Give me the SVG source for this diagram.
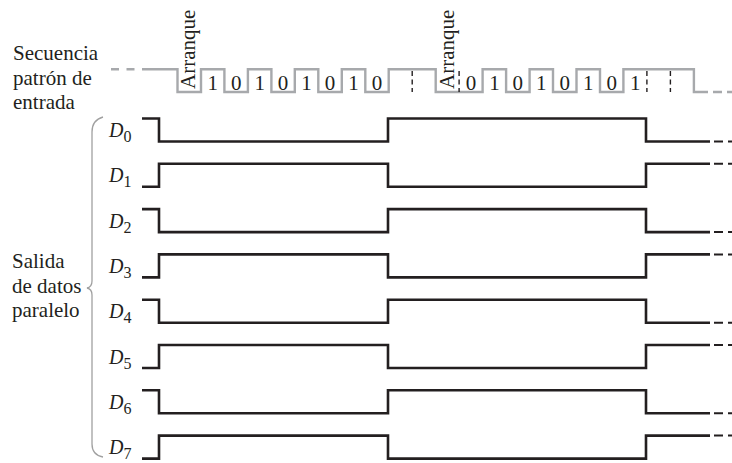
<svg xmlns="http://www.w3.org/2000/svg" width="732" height="463" viewBox="0 0 732 463">
<style>
text{font-family:"Liberation Serif","Times New Roman",serif;fill:#231f20}
.lbl{font-size:21px}
.bit{font-size:21px;text-anchor:middle}
.dl{font-size:20px;font-style:italic}
.sub{font-size:16px;font-style:normal}
.ser{fill:none;stroke:#a7a9ac;stroke-width:2.4;stroke-linejoin:miter}
.serd{fill:none;stroke:#a7a9ac;stroke-width:2.4}
.vd{stroke:#231f20;stroke-width:1.4;stroke-dasharray:5 3.5}
.wave{fill:none;stroke:#231f20;stroke-width:2.6;stroke-linejoin:miter}
.tail{stroke:#231f20;stroke-width:2;stroke-dasharray:9 5}
.brace{fill:none;stroke:#a0a0a0;stroke-width:1.3}
</style>
<rect width="732" height="463" fill="#fff"/>
<g id="labels">
<text class="lbl" x="13" y="60">Secuencia</text>
<text class="lbl" x="13" y="84.5">patrón de</text>
<text class="lbl" x="13" y="109">entrada</text>
<text class="lbl" x="12" y="268">Salida</text>
<text class="lbl" x="12" y="293">de datos</text>
<text class="lbl" x="12" y="317">paralelo</text>
</g>
<g id="brace">
<path class="brace" d="M103,117 Q92,120 92,132 V281 Q92,287 87,288 Q92,289 92,295 V444 Q92,455 103,457"/>
</g>
<g id="serial-input">
<path class="serd" d="M111,69.3 H138" stroke-dasharray="8 7.5"/>
<path class="ser" d="M142,69.3 H177.5 V92 H201 V69.3 H224.4 V92 H247.9 V69.3 H271.4 V92 H294.8 V69.3 H318.3 V92 H341.8 V69.3 H365.3 V92 H388.7 V69.3 H435.7 V92 H482.6 V69.3 H506.1 V92 H529.6 V69.3 H553 V92 H576.5 V69.3 H600 V92 H623.4 V69.3 H693.9 V92 H708"/>
<path class="serd" d="M713,92 H732" stroke-dasharray="9 5"/>
<line class="vd" x1="412.2" y1="71" x2="412.2" y2="92"/>
<line class="vd" x1="459.1" y1="71" x2="459.1" y2="92"/>
<line class="vd" x1="646.9" y1="71" x2="646.9" y2="92"/>
<line class="vd" x1="670.4" y1="71" x2="670.4" y2="92"/>
<text class="lbl" transform="translate(195,89) rotate(-90)">Arranque</text>
<text class="lbl" transform="translate(453.5,89) rotate(-90)">Arranque</text>
<text class="bit" x="212.7" y="90">1</text>
<text class="bit" x="236.2" y="90">0</text>
<text class="bit" x="259.7" y="90">1</text>
<text class="bit" x="283.1" y="90">0</text>
<text class="bit" x="306.6" y="90">1</text>
<text class="bit" x="330.1" y="90">0</text>
<text class="bit" x="353.5" y="90">1</text>
<text class="bit" x="377" y="90">0</text>
<text class="bit" x="470.9" y="90">0</text>
<text class="bit" x="494.4" y="90">1</text>
<text class="bit" x="517.8" y="90">0</text>
<text class="bit" x="541.3" y="90">1</text>
<text class="bit" x="564.8" y="90">0</text>
<text class="bit" x="588.3" y="90">1</text>
<text class="bit" x="611.7" y="90">0</text>
<text class="bit" x="635.2" y="90">1</text>
</g>
<g id="D0">
<text class="dl" x="109" y="137">D<tspan class="sub" dy="5">0</tspan></text>
<path class="wave" d="M142,118.5 H159 V141.5 H388 V118.5 H646 V141.5 H710"/>
<line class="tail" x1="714" y1="141.5" x2="732" y2="141.5"/>
</g>
<g id="D1">
<text class="dl" x="109" y="182.3">D<tspan class="sub" dy="5">1</tspan></text>
<path class="wave" d="M142,186.8 H159 V163.8 H388 V186.8 H646 V163.8 H710"/>
<line class="tail" x1="714" y1="163.8" x2="732" y2="163.8"/>
</g>
<g id="D2">
<text class="dl" x="109" y="227.6">D<tspan class="sub" dy="5">2</tspan></text>
<path class="wave" d="M142,209.1 H159 V232.1 H388 V209.1 H646 V232.1 H710"/>
<line class="tail" x1="714" y1="232.1" x2="732" y2="232.1"/>
</g>
<g id="D3">
<text class="dl" x="109" y="272.9">D<tspan class="sub" dy="5">3</tspan></text>
<path class="wave" d="M142,277.4 H159 V254.4 H388 V277.4 H646 V254.4 H710"/>
<line class="tail" x1="714" y1="254.4" x2="732" y2="254.4"/>
</g>
<g id="D4">
<text class="dl" x="109" y="318.2">D<tspan class="sub" dy="5">4</tspan></text>
<path class="wave" d="M142,299.7 H159 V322.7 H388 V299.7 H646 V322.7 H710"/>
<line class="tail" x1="714" y1="322.7" x2="732" y2="322.7"/>
</g>
<g id="D5">
<text class="dl" x="109" y="363.5">D<tspan class="sub" dy="5">5</tspan></text>
<path class="wave" d="M142,368 H159 V345 H388 V368 H646 V345 H710"/>
<line class="tail" x1="714" y1="345" x2="732" y2="345"/>
</g>
<g id="D6">
<text class="dl" x="109" y="408.8">D<tspan class="sub" dy="5">6</tspan></text>
<path class="wave" d="M142,390.3 H159 V413.3 H388 V390.3 H646 V413.3 H710"/>
<line class="tail" x1="714" y1="413.3" x2="732" y2="413.3"/>
</g>
<g id="D7">
<text class="dl" x="109" y="454.1">D<tspan class="sub" dy="5">7</tspan></text>
<path class="wave" d="M142,458.6 H159 V435.6 H388 V458.6 H646 V435.6 H710"/>
<line class="tail" x1="714" y1="435.6" x2="732" y2="435.6"/>
</g>
</svg>
